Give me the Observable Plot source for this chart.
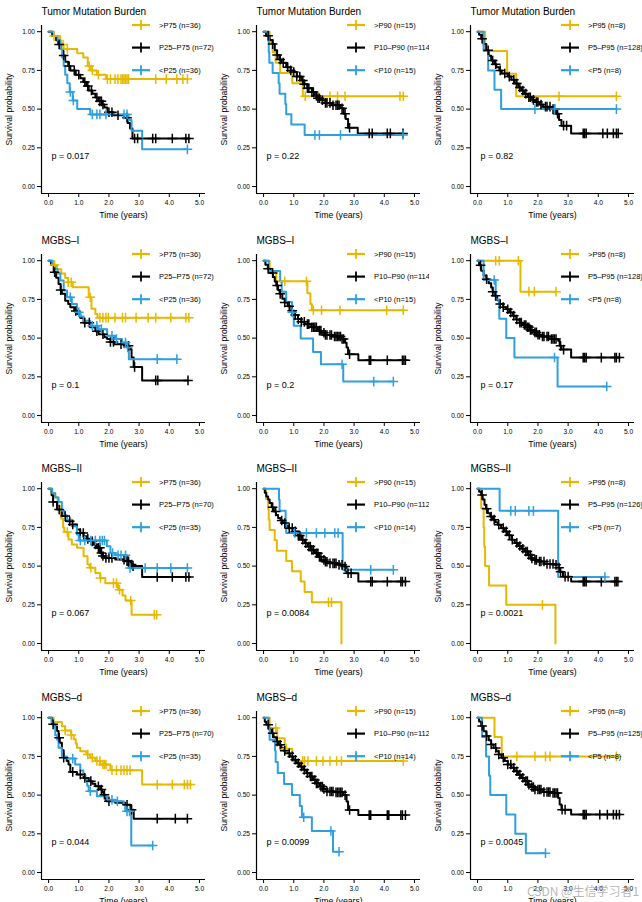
<!DOCTYPE html>
<html><head><meta charset="utf-8">
<script src="https://cdn.jsdelivr.net/npm/d3@7"></script>
<script src="https://cdn.jsdelivr.net/npm/@observablehq/plot@0.6"></script>
<style>
html,body{margin:0;padding:0;background:#fff;overflow:hidden}
#wrap{position:relative;width:642px;height:902px;overflow:hidden;background:#fff}
.panel{position:absolute;width:214px;height:228px;background:#fff}
#wm{position:absolute;left:527px;top:882px;font:12px "Noto Sans CJK SC","Liberation Sans",sans-serif;color:rgba(150,150,150,0.7);white-space:nowrap}
</style></head><body><div id="wrap"></div><script>
// ---------- labels ----------
const rowTitles = ["Tumor Mutation Burden", "MGBS–I", "MGBS–II", "MGBS–d"];
const groupNames = [[">P75", "P25–P75", "<P25"], [">P90", "P10–P90", "<P10"], [">P95", "P5–P95", "<P5"]];
const groupN = [
  [[36, 72, 36], [15, 114, 15], [8, 128, 8]],
  [[36, 72, 36], [15, 114, 15], [8, 128, 8]],
  [[36, 70, 35], [15, 112, 14], [8, 126, 7]],
  [[36, 70, 35], [15, 112, 14], [8, 125, 8]]
];
const pValues = [["0.017", "0.22", "0.82"], ["0.1", "0.2", "0.17"], ["0.067", "0.0084", "0.0021"], ["0.044", "0.0099", "0.0045"]];
const xTicks = [0, 1, 2, 3, 4, 5];
const yTicks = [0, 0.25, 0.5, 0.75, 1];
const colors = ["#E7B800", "#000000", "#2E9FDF"];

// ---------- Tumor Mutation Burden ----------
const tmbA_hi = [[0,1],[0.15,0.972],[0.38,0.917],[0.5,0.889],[0.95,0.861],[1.15,0.833],[1.3,0.778],[1.4,0.75],[1.6,0.722],[1.9,0.694]];
const tmbA_hiC = [0.18,0.48,0.62,1.35,1.45,1.65,1.95,2.05,2.2,2.3,2.4,2.45,2.5,2.55,2.6,2.65,3.55,3.9,4.25,4.45,4.6];
const tmbA_mid = [[0,1],[0.12,0.972],[0.25,0.944],[0.32,0.917],[0.4,0.889],[0.48,0.847],[0.55,0.806],[0.65,0.778],[0.72,0.75],[0.9,0.722],[1.05,0.7],[1.15,0.675],[1.25,0.65],[1.33,0.62],[1.45,0.6],[1.55,0.575],[1.65,0.55],[1.78,0.53],[1.85,0.51],[1.95,0.48],[2.15,0.46],[2.5,0.445],[2.62,0.41],[2.7,0.375],[2.78,0.31]];
const tmbA_midC = [0.35,0.5,0.68,0.85,1.0,1.2,1.3,1.42,1.6,1.7,1.75,1.8,2.0,2.1,2.3,2.6,2.85,2.95,3.45,3.55,4.1,4.55,4.65];
const tmbA_lo = [[0,1],[0.17,0.972],[0.3,0.944],[0.4,0.889],[0.45,0.833],[0.5,0.778],[0.55,0.722],[0.62,0.667],[0.7,0.611],[0.8,0.556],[0.95,0.5],[1.38,0.466],[2.65,0.43],[2.75,0.36],[3.1,0.24]];
const tmbA_loC = [0.72,0.82,1.45,1.6,1.7,1.9,2.5,2.6,4.6];

const tmbB_hi = [[0,1],[0.2,0.933],[0.3,0.867],[0.4,0.8],[0.55,0.733],[0.95,0.667],[1.3,0.583]];
const tmbB_hiC = [1.38,1.8,2.2,2.45,2.7,4.52,4.63];
const tmbB_mid = [[0,1],[0.08,0.973],[0.2,0.947],[0.3,0.92],[0.37,0.88],[0.45,0.85],[0.52,0.82],[0.6,0.8],[0.75,0.77],[0.9,0.75],[1.0,0.74],[1.1,0.71],[1.25,0.685],[1.35,0.66],[1.45,0.635],[1.6,0.61],[1.7,0.585],[1.8,0.57],[1.9,0.557],[2.05,0.54],[2.25,0.525],[2.55,0.505],[2.65,0.47],[2.72,0.436],[2.8,0.38],[3.12,0.343]];
const tmbB_midC = [0.15,0.3,0.45,0.55,0.65,0.8,0.9,1.0,1.1,1.2,1.3,1.35,1.45,1.5,1.6,1.65,1.75,1.8,1.85,1.95,2.05,2.1,2.2,2.3,2.4,2.45,2.5,2.6,2.7,2.85,3.5,3.6,4.1,4.2,4.62];
const tmbB_lo = [[0,1],[0.17,0.867],[0.19,0.8],[0.3,0.733],[0.5,0.667],[0.53,0.6],[0.72,0.533],[0.75,0.467],[0.92,0.4],[1.36,0.333]];
const tmbB_loC = [1.7,1.85,2.55,4.62];

const tmbC_hi = [[0,1],[0.25,0.875],[0.98,0.729],[1.28,0.583]];
const tmbC_hiC = [2.7,4.6];
const tmbC_mid = [[0,1],[0.05,0.98],[0.12,0.955],[0.2,0.92],[0.29,0.88],[0.37,0.845],[0.45,0.814],[0.55,0.79],[0.62,0.77],[0.72,0.75],[0.8,0.73],[1.0,0.71],[1.12,0.69],[1.23,0.665],[1.35,0.64],[1.45,0.62],[1.55,0.6],[1.67,0.577],[1.8,0.56],[1.9,0.546],[2.05,0.53],[2.17,0.516],[2.44,0.5],[2.6,0.47],[2.7,0.43],[2.78,0.393],[3.1,0.343]];
const tmbC_midC = [0.15,0.35,0.5,0.6,0.75,0.9,1.05,1.2,1.3,1.4,1.5,1.6,1.7,1.75,1.85,1.95,2.0,2.1,2.25,2.3,2.4,2.5,2.55,2.65,2.85,2.95,3.5,3.55,3.6,4.15,4.3,4.5,4.6,4.66];
const tmbC_lo = [[0,1],[0.2,0.875],[0.35,0.75],[0.56,0.625],[0.78,0.5]];
const tmbC_loC = [1.9,2.55,4.6];

// ---------- MGBS-I ----------
const m1A_hi = [[0,1],[0.15,0.972],[0.28,0.944],[0.42,0.917],[0.55,0.889],[0.65,0.861],[0.8,0.829],[1.33,0.764],[1.42,0.69],[1.55,0.656],[1.62,0.632]];
const m1A_hiC = [0.2,0.65,0.75,1.38,1.7,1.8,1.9,1.98,2.2,2.45,2.55,2.9,3.3,3.55,4.05,4.55,4.65];
const m1A_mid = [[0,1],[0.08,0.972],[0.17,0.925],[0.25,0.89],[0.33,0.85],[0.4,0.81],[0.44,0.786],[0.55,0.742],[0.65,0.72],[0.72,0.7],[0.85,0.675],[0.94,0.656],[1.05,0.63],[1.16,0.6],[1.38,0.57],[1.55,0.545],[1.66,0.525],[1.85,0.505],[1.94,0.494],[2.05,0.475],[2.16,0.46],[2.49,0.45],[2.7,0.428],[2.75,0.374],[2.82,0.314],[3.1,0.227]];
const m1A_midC = [0.2,0.4,0.9,1.2,1.35,1.6,1.8,2.05,2.15,2.4,2.65,2.85,3.55,3.62,4.62];
const m1A_lo = [[0,1],[0.12,0.972],[0.22,0.944],[0.3,0.917],[0.39,0.872],[0.5,0.807],[0.61,0.764],[0.77,0.72],[0.94,0.667],[1.05,0.64],[1.16,0.612],[1.38,0.58],[1.66,0.558],[1.94,0.515],[2.2,0.494],[2.43,0.472],[2.6,0.44],[2.66,0.364]];
const m1A_loC = [0.72,1.0,1.45,1.6,1.75,2.1,2.25,2.55,2.62,3.6,4.25];

const m1B_hi = [[0,1],[0.2,0.933],[0.42,0.867],[1.45,0.79],[1.55,0.72],[1.6,0.68]];
const m1B_hiC = [0.7,1.42,1.65,1.92,2.53,4.08,4.63];
const m1B_mid = [[0,1],[0.06,0.973],[0.14,0.948],[0.22,0.92],[0.31,0.894],[0.37,0.865],[0.42,0.84],[0.48,0.81],[0.53,0.786],[0.62,0.755],[0.7,0.73],[0.8,0.705],[0.92,0.677],[1.03,0.65],[1.14,0.623],[1.25,0.605],[1.36,0.59],[1.58,0.57],[1.8,0.548],[1.92,0.535],[2.03,0.52],[2.3,0.51],[2.58,0.494],[2.7,0.47],[2.75,0.44],[2.8,0.396],[3.14,0.357]];
const m1B_midC = [0.15,0.3,0.45,0.55,0.7,0.85,0.95,1.05,1.15,1.25,1.35,1.45,1.5,1.6,1.65,1.7,1.75,1.85,1.9,2.0,2.05,2.1,2.2,2.25,2.35,2.4,2.45,2.5,2.55,2.6,2.65,2.85,3.5,3.55,4.1,4.6,4.65,4.7];
const m1B_lo = [[0,1],[0.17,0.933],[0.55,0.867],[0.6,0.8],[0.75,0.733],[0.94,0.667],[1.0,0.58],[1.23,0.498],[1.64,0.411],[1.9,0.331],[2.64,0.219]];
const m1B_loC = [0.95,2.6,3.65,4.3];

const m1C_hi = [[0,1],[1.42,0.8]];
const m1C_hiC = [0.6,0.72,1.35,1.7,1.88,2.6];
const m1C_mid = [[0,1],[0.05,0.97],[0.12,0.935],[0.2,0.905],[0.29,0.88],[0.37,0.855],[0.45,0.827],[0.5,0.8],[0.56,0.773],[0.65,0.745],[0.73,0.72],[0.85,0.7],[0.95,0.686],[1.05,0.665],[1.17,0.645],[1.28,0.62],[1.39,0.6],[1.5,0.585],[1.62,0.57],[1.73,0.553],[1.84,0.537],[1.98,0.522],[2.11,0.51],[2.44,0.494],[2.67,0.483],[2.72,0.45],[2.78,0.426],[3.1,0.374]];
const m1C_midC = [0.1,0.3,0.5,0.6,0.75,0.85,1.0,1.1,1.2,1.3,1.4,1.45,1.55,1.6,1.65,1.7,1.75,1.8,1.9,1.95,2.0,2.05,2.15,2.2,2.3,2.35,2.45,2.5,2.55,2.6,2.75,2.85,3.5,3.55,3.6,4.1,4.55,4.6,4.7];
const m1C_lo = [[0,1],[0.2,0.875],[0.6,0.75],[0.72,0.625],[0.95,0.5],[1.22,0.375],[2.65,0.1875]];
const m1C_loC = [0.55,2.55,4.28];

// ---------- MGBS-II ----------
const m2A_hi = [[0,1],[0.1,0.972],[0.22,0.944],[0.3,0.889],[0.38,0.833],[0.42,0.806],[0.48,0.75],[0.52,0.72],[0.66,0.672],[0.77,0.64],[0.94,0.618],[1.16,0.564],[1.29,0.51],[1.36,0.49],[1.55,0.456],[1.71,0.423],[1.88,0.39],[2.3,0.348],[2.45,0.31],[2.55,0.278],[2.75,0.186]];
const m2A_hiC = [0.62,1.4,1.72,2.15,2.25,2.35,2.72,3.5,3.58];
const m2A_mid = [[0,1],[0.1,0.957],[0.15,0.914],[0.28,0.866],[0.44,0.823],[0.61,0.79],[0.77,0.769],[0.94,0.736],[1.05,0.714],[1.16,0.693],[1.27,0.676],[1.38,0.66],[1.5,0.64],[1.6,0.618],[1.71,0.585],[1.8,0.565],[1.88,0.553],[2.21,0.542],[2.54,0.531],[2.71,0.51],[2.8,0.5],[3.1,0.43]];
const m2A_midC = [0.15,0.35,0.55,0.7,0.8,1.05,1.15,1.3,1.45,1.55,1.65,1.7,1.75,1.8,1.9,2.0,2.1,2.5,2.6,2.65,2.75,2.8,3.6,4.1,4.55,4.65];
const m2A_lo = [[0,1],[0.12,0.971],[0.22,0.943],[0.33,0.914],[0.44,0.857],[0.52,0.829],[0.61,0.8],[0.77,0.758],[0.94,0.704],[1.0,0.665],[1.93,0.628],[2.05,0.585],[2.2,0.57],[2.6,0.542],[2.65,0.488]];
const m2A_loC = [1.05,1.2,1.4,1.55,1.7,1.78,1.85,2.12,2.3,2.4,2.55,2.7,3.2,3.6,4.05,4.6];

const m2B_hi = [[0,1],[0.08,0.933],[0.15,0.867],[0.17,0.8],[0.2,0.733],[0.37,0.667],[0.44,0.6],[0.75,0.533],[0.94,0.467],[1.23,0.4],[1.36,0.333],[1.6,0.267],[2.58,0]];
const m2B_hiC = [2.15,2.25];
const m2B_mid = [[0,1],[0.04,0.973],[0.09,0.95],[0.15,0.93],[0.2,0.907],[0.27,0.88],[0.34,0.853],[0.41,0.83],[0.48,0.81],[0.56,0.795],[0.64,0.778],[0.72,0.76],[0.81,0.745],[1.03,0.724],[1.14,0.697],[1.25,0.67],[1.36,0.648],[1.47,0.626],[1.58,0.605],[1.7,0.583],[1.81,0.56],[1.92,0.54],[2.03,0.528],[2.14,0.518],[2.47,0.508],[2.69,0.497],[2.75,0.454],[3.14,0.4]];
const m2B_midC = [0.3,0.4,0.6,0.7,0.85,0.95,1.05,1.15,1.2,1.3,1.4,1.5,1.55,1.6,1.65,1.75,1.8,1.85,1.9,2.0,2.05,2.1,2.2,2.3,2.35,2.4,2.5,2.6,2.7,2.8,2.9,3.55,3.6,4.1,4.55,4.6,4.7];
const m2B_lo = [[0,1],[0.51,0.929],[0.53,0.857],[0.73,0.786],[0.75,0.714],[2.62,0.476]];
const m2B_loC = [1.03,1.42,1.75,2.03,2.36,2.47,3.55,4.3];

const m2C_hi = [[0,1],[0.12,0.875],[0.2,0.75],[0.22,0.625],[0.25,0.5],[0.38,0.375],[0.95,0.25],[2.58,0]];
const m2C_hiC = [2.15];
const m2C_mid = [[0,1],[0.05,0.98],[0.12,0.96],[0.17,0.93],[0.23,0.896],[0.28,0.87],[0.34,0.842],[0.42,0.82],[0.51,0.8],[0.59,0.783],[0.67,0.767],[0.78,0.745],[0.9,0.724],[1.0,0.7],[1.12,0.67],[1.23,0.65],[1.34,0.63],[1.45,0.612],[1.56,0.594],[1.67,0.572],[1.78,0.55],[1.89,0.54],[2.0,0.53],[2.22,0.514],[2.56,0.508],[2.68,0.49],[2.72,0.464],[2.83,0.432],[3.1,0.4]];
const m2C_midC = [0.15,0.3,0.45,0.55,0.7,0.85,0.95,1.05,1.15,1.3,1.4,1.5,1.6,1.65,1.7,1.75,1.8,1.9,1.95,2.05,2.1,2.2,2.3,2.4,2.5,2.6,2.7,2.75,2.9,3.0,3.5,3.55,3.6,4.1,4.55,4.6,4.65];
const m2C_lo = [[0,1],[0.73,0.857],[2.67,0.429]];
const m2C_loC = [1.1,1.25,1.7,1.85,4.22];

// ---------- MGBS-d ----------
const mdA_hi = [[0,1],[0.17,0.972],[0.44,0.944],[0.55,0.917],[0.75,0.889],[0.83,0.861],[0.9,0.833],[0.94,0.806],[1.05,0.784],[1.25,0.762],[1.38,0.741],[1.55,0.72],[1.71,0.698],[2.05,0.661],[3.1,0.568]];
const mdA_hiC = [0.55,0.75,1.3,1.45,1.6,1.7,1.8,1.85,1.9,2.1,2.25,2.4,2.5,2.6,2.7,3.6,4.1,4.5,4.6,4.7];
const mdA_mid = [[0,1],[0.11,0.957],[0.2,0.943],[0.28,0.914],[0.33,0.871],[0.37,0.838],[0.44,0.79],[0.5,0.741],[0.6,0.72],[0.66,0.698],[0.72,0.65],[0.94,0.633],[1.16,0.611],[1.33,0.59],[1.45,0.573],[1.55,0.557],[1.71,0.536],[1.78,0.52],[1.82,0.503],[1.88,0.48],[1.91,0.46],[2.21,0.45],[2.54,0.438],[2.71,0.406],[2.82,0.348]];
const mdA_midC = [0.15,0.35,0.5,0.8,1.05,1.2,1.4,1.65,1.75,1.85,2.0,2.6,2.75,3.6,4.2,4.6];
const mdA_lo = [[0,1],[0.1,0.971],[0.17,0.943],[0.22,0.886],[0.28,0.857],[0.33,0.806],[0.44,0.75],[0.61,0.736],[0.88,0.698],[1.05,0.659],[1.15,0.63],[1.22,0.6],[1.28,0.56],[1.33,0.525],[1.6,0.492],[1.94,0.47],[2.21,0.46],[2.49,0.438],[2.54,0.395],[2.74,0.175]];
const mdA_loC = [0.8,1.38,2.1,2.28,2.6,2.68,3.45];

const mdB_hi = [[0,1],[0.2,0.933],[0.45,0.867],[0.7,0.8],[0.95,0.72]];
const mdB_hiC = [0.4,0.75,1.3,1.36,1.47,1.75,1.97,2.2,2.42,2.58,4.63];
const mdB_mid = [[0,1],[0.04,0.973],[0.09,0.955],[0.17,0.928],[0.25,0.9],[0.33,0.874],[0.42,0.847],[0.5,0.825],[0.59,0.803],[0.67,0.786],[0.75,0.77],[0.87,0.75],[0.98,0.728],[1.09,0.706],[1.2,0.685],[1.31,0.663],[1.42,0.641],[1.53,0.62],[1.64,0.598],[1.75,0.576],[1.86,0.555],[1.97,0.54],[2.08,0.523],[2.36,0.518],[2.64,0.5],[2.75,0.458],[2.8,0.404],[3.14,0.371]];
const mdB_midC = [0.15,0.3,0.45,0.55,0.7,0.85,0.95,1.05,1.15,1.25,1.35,1.45,1.55,1.6,1.7,1.75,1.8,1.9,1.95,2.0,2.1,2.2,2.25,2.3,2.4,2.45,2.5,2.55,2.6,2.7,2.85,3.5,3.55,4.1,4.15,4.55,4.6,4.7];
const mdB_lo = [[0,1],[0.17,0.929],[0.2,0.857],[0.38,0.786],[0.4,0.714],[0.47,0.643],[0.68,0.571],[0.94,0.5],[1.2,0.43],[1.27,0.357],[1.6,0.268],[2.3,0.134]];
const mdB_loC = [1.33,2.23,2.5];

const mdC_hi = [[0,1],[0.56,0.875],[0.8,0.75]];
const mdC_hiC = [1.3,1.9,2.25,2.4,4.6];
const mdC_mid = [[0,1],[0.05,0.975],[0.12,0.946],[0.2,0.912],[0.29,0.881],[0.37,0.854],[0.45,0.827],[0.53,0.805],[0.62,0.784],[0.7,0.762],[0.79,0.741],[0.9,0.72],[1.0,0.698],[1.12,0.676],[1.23,0.654],[1.34,0.632],[1.45,0.611],[1.56,0.59],[1.67,0.568],[1.78,0.552],[1.89,0.536],[2.17,0.52],[2.5,0.514],[2.67,0.482],[2.72,0.44],[2.78,0.406],[3.1,0.374]];
const mdC_midC = [0.15,0.3,0.45,0.6,0.7,0.85,1.0,1.1,1.2,1.3,1.4,1.5,1.6,1.65,1.7,1.8,1.85,1.9,2.0,2.05,2.1,2.2,2.3,2.35,2.4,2.5,2.55,2.6,2.65,2.8,2.9,3.5,3.55,3.6,4.05,4.3,4.5,4.6,4.7];
const mdC_lo = [[0,1],[0.15,0.875],[0.28,0.75],[0.38,0.625],[0.42,0.5],[0.95,0.375],[1.25,0.25],[1.6,0.125]];
const mdC_loC = [2.25];

const curveSets = [
  [[tmbA_hi, tmbA_hiC, tmbA_mid, tmbA_midC, tmbA_lo, tmbA_loC], [tmbB_hi, tmbB_hiC, tmbB_mid, tmbB_midC, tmbB_lo, tmbB_loC], [tmbC_hi, tmbC_hiC, tmbC_mid, tmbC_midC, tmbC_lo, tmbC_loC]],
  [[m1A_hi, m1A_hiC, m1A_mid, m1A_midC, m1A_lo, m1A_loC], [m1B_hi, m1B_hiC, m1B_mid, m1B_midC, m1B_lo, m1B_loC], [m1C_hi, m1C_hiC, m1C_mid, m1C_midC, m1C_lo, m1C_loC]],
  [[m2A_hi, m2A_hiC, m2A_mid, m2A_midC, m2A_lo, m2A_loC], [m2B_hi, m2B_hiC, m2B_mid, m2B_midC, m2B_lo, m2B_loC], [m2C_hi, m2C_hiC, m2C_mid, m2C_midC, m2C_lo, m2C_loC]],
  [[mdA_hi, mdA_hiC, mdA_mid, mdA_midC, mdA_lo, mdA_loC], [mdB_hi, mdB_hiC, mdB_mid, mdB_midC, mdB_lo, mdB_loC], [mdC_hi, mdC_hiC, mdC_mid, mdC_midC, mdC_lo, mdC_loC]]
];

// ---------- drawing ----------
const FONT = "'Liberation Sans', Arial, Helvetica, sans-serif";
const xDom = [-0.235, 5.2], yDom = [-0.045, 1.04];
const survAt = (steps, t) => { let s = 1; for (const [ti, si] of steps) if (ti <= t) s = si; return s; };

const wrap = document.getElementById("wrap");
for (let r = 0; r < 4; r++) {
  for (let c = 0; c < 3; c++) {
    const cs = curveSets[r][c];
    const lines = [], cens = [];
    for (let g = 0; g < 3; g++) {
      const steps = cs[2 * g], cc = cs[2 * g + 1];
      const last = steps[steps.length - 1];
      const end = Math.max(last[0], ...cc);
      steps.forEach(([t, s]) => lines.push({g, t, s}));
      lines.push({g, t: end, s: last[1]});
      cc.forEach(t => cens.push({g, t, s: survAt(steps, t)}));
    }
    const svg = Plot.plot({
      width: 214, height: 228,
      marginLeft: 41, marginRight: 9, marginTop: 25, marginBottom: 35,
      x: {domain: xDom},
      y: {domain: yDom},
      color: {type: "ordinal", domain: [0, 1, 2], range: colors},
      style: {background: "white", color: "black", fontFamily: FONT, overflow: "hidden"},
      marks: [
        Plot.axisX({ticks: xTicks, tickSize: 4, tickPadding: 2.5, fontSize: 6.6, label: null}),
        Plot.axisY({ticks: yTicks, tickSize: 4, tickPadding: 2.5, fontSize: 6.6, tickFormat: d3.format(".2f"), label: null}),
        Plot.ruleX([xDom[0]], {strokeWidth: 1.2}),
        Plot.ruleY([yDom[0]], {strokeWidth: 1.2}),
        Plot.line(lines, {x: "t", y: "s", z: "g", stroke: "g", curve: "step-after", strokeWidth: 2}),
        Plot.dot(cens, {x: "t", y: "s", stroke: "g", symbol: "plus", r: 3.2, strokeWidth: 1.5}),
        Plot.text([rowTitles[r]], {text: d => d, frameAnchor: "top-left", dy: -14, textAnchor: "start", lineAnchor: "middle", fontSize: 10}),
        Plot.text(["Time (years)"], {text: d => d, frameAnchor: "bottom", dy: 22, textAnchor: "middle", lineAnchor: "middle", fontSize: 8.7}),
        Plot.text(["Survival probability"], {text: d => d, frameAnchor: "left", dx: -32, rotate: -90, textAnchor: "middle", lineAnchor: "middle", fontSize: 8.6}),
        Plot.text([`p = ${pValues[r][c]}`], {text: d => d, frameAnchor: "bottom-left", dx: 10, dy: -37.5, textAnchor: "start", lineAnchor: "middle", fontSize: 9})
      ]
    });
    // legend (inside the panel, top right)
    const lg = d3.select(svg).append("g").attr("font-family", FONT).attr("font-size", 7.5).attr("text-anchor", "start");
    groupNames[c].forEach((name, i) => {
      const y = 25 + i * 22.6;
      lg.append("line").attr("x1", 132).attr("x2", 150).attr("y1", y).attr("y2", y)
        .attr("stroke", colors[i]).attr("stroke-width", 2.2);
      lg.append("line").attr("x1", 141).attr("x2", 141).attr("y1", y - 5).attr("y2", y + 5)
        .attr("stroke", colors[i]).attr("stroke-width", 1.8);
      lg.append("text").attr("x", 159).attr("y", y).attr("dy", "0.35em").attr("fill", "black")
        .attr("text-anchor", "start")
        .text(`${name} (n=${groupN[r][c][i]})`);
    });
    const div = document.createElement("div");
    div.className = "panel";
    div.style.left = (c * 214.6) + "px";
    div.style.top = (r * 228.5) + "px";
    div.appendChild(svg);
    wrap.appendChild(div);
  }
}
const wm = document.createElement("div");
wm.id = "wm";
wm.textContent = "CSDN @生信学习者1";
wrap.appendChild(wm);
</script></body></html>
